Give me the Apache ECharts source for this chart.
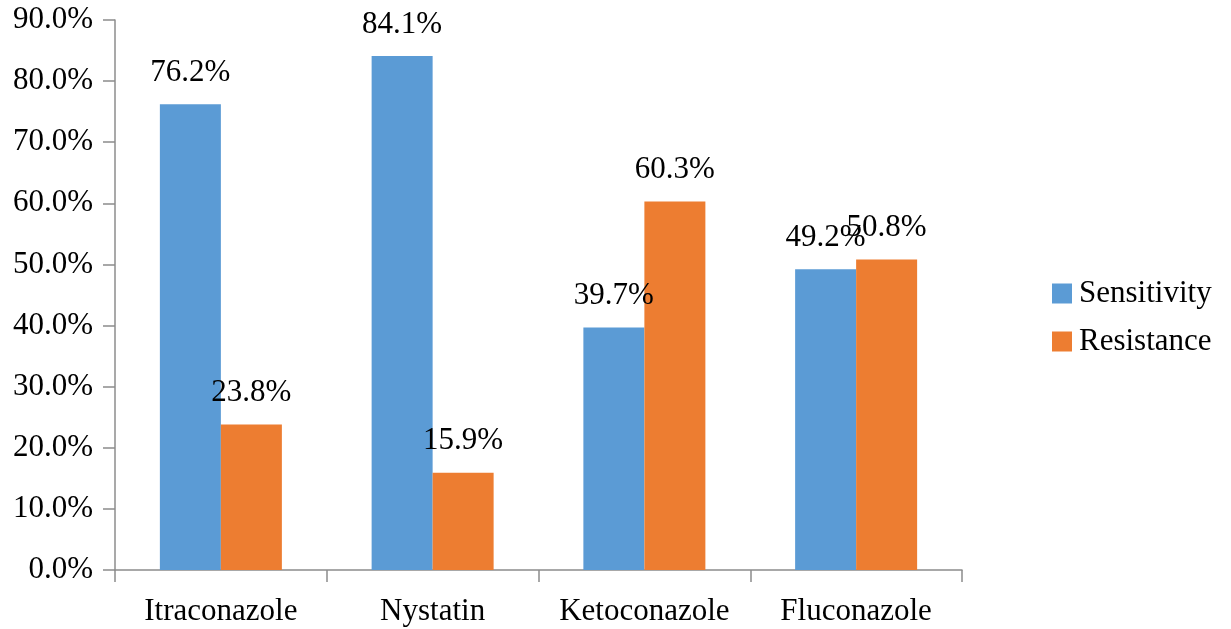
<!DOCTYPE html>
<html>
<head>
<meta charset="utf-8">
<script src="https://cdn.jsdelivr.net/npm/echarts@6/dist/echarts.min.js"></script>
<style>
  html, body { margin: 0; padding: 0; background: #fff; }
  #chart { width: 1231px; height: 629px; }
</style>
</head>
<body>
<div id="chart"></div>
<script>
// Antifungal susceptibility (%) per drug
const drugs = ['Itraconazole', 'Nystatin', 'Ketoconazole', 'Fluconazole'];
const sensitivity = [76.2, 84.1, 39.7, 49.2];
const resistance = [23.8, 15.9, 60.3, 50.8];
const yTicks = [0, 10, 20, 30, 40, 50, 60, 70, 80, 90];

const FONT = '"Liberation Serif", "Times New Roman", serif';
const FS = 31;
const AXIS_COLOR = '#8c8c8c';

const chart = echarts.init(document.getElementById('chart'), null, { renderer: 'canvas' });

const labelStyle = {
  show: true,
  position: 'top',
  distance: 16,
  fontFamily: FONT,
  fontSize: FS,
  color: '#000',
  formatter: p => p.value.toFixed(1) + '%'
};

chart.setOption({
  animation: false,
  backgroundColor: '#fff',
  grid: { left: 115, right: 269, top: 20, bottom: 59, containLabel: false },
  legend: {
    orient: 'vertical',
    left: 1047,
    top: 273,
    itemWidth: 20,
    itemHeight: 20,
    itemGap: 17,
    icon: 'rect',
    textStyle: { fontFamily: FONT, fontSize: FS, color: '#000', padding: [0, 0, 0, 2] },
    data: ['Sensitivity', 'Resistance']
  },
  xAxis: {
    type: 'category',
    data: drugs,
    axisLine: { lineStyle: { color: AXIS_COLOR, width: 1.5 } },
    axisTick: { show: true, interval: 0, length: 12, alignWithLabel: false, lineStyle: { color: AXIS_COLOR, width: 1.5 } },
    axisLabel: { interval: 0, hideOverlap: false, margin: 26, fontFamily: FONT, fontSize: FS, color: '#000' }
  },
  yAxis: {
    type: 'value',
    min: yTicks[0],
    max: yTicks[yTicks.length - 1],
    interval: 10,
    splitLine: { show: false },
    axisLine: { show: true, lineStyle: { color: AXIS_COLOR, width: 1.5 } },
    axisTick: { show: true, length: 12, lineStyle: { color: AXIS_COLOR, width: 1.5 } },
    axisLabel: {
      margin: 22,
      fontFamily: FONT,
      fontSize: FS,
      color: '#000',
      formatter: v => v.toFixed(1) + '%'
    }
  },
  series: [
    {
      name: 'Sensitivity',
      type: 'bar',
      data: sensitivity,
      barWidth: 61,
      barGap: '0%',
      itemStyle: { color: '#5B9BD5' },
      label: labelStyle
    },
    {
      name: 'Resistance',
      type: 'bar',
      data: resistance,
      barWidth: 61,
      barGap: '0%',
      itemStyle: { color: '#ED7D31' },
      label: labelStyle
    }
  ]
});
</script>
</body>
</html>
